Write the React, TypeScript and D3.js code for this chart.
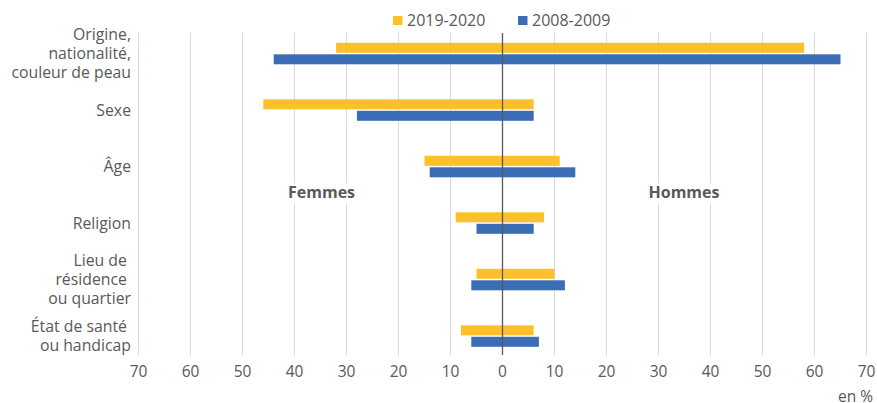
import React from "react";
import * as d3 from "d3";

const categories = [
  ["Origine,", "nationalité,", "couleur de peau"],
  ["Sexe"],
  ["Âge"],
  ["Religion"],
  ["Lieu de ", "résidence ", "ou quartier"],
  ["État de santé ", "ou handicap"],
];
const seriesNames = ["2019-2020", "2008-2009"];
const femmes2019 = [32, 46, 15, 9, 5, 8];
const hommes2019 = [58, 6, 11, 8, 10, 6];
const femmes2008 = [44, 28, 14, 5, 6, 6];
const hommes2008 = [65, 6, 14, 6, 12, 7];
const tickValues = [-70, -60, -50, -40, -30, -20, -10, 0, 10, 20, 30, 40, 50, 60, 70];

const W = 877;
const H = 403;
const COLORS = ["#FEC02A", "#3A6DB5"];
const TEXT = "#595959";
const FONT = "'Open Sans', sans-serif";

export default function App() {
  const x = d3.scaleLinear().domain([-70, 70]).range([138.5, 866.5]);
  const y = d3
    .scaleBand<number>()
    .domain(d3.range(categories.length))
    .range([25.3, 364.3]);
  const plotTop = 33;
  const plotBottom = 355;
  const barH = 10;
  const gap = 1.5;
  const series = [
    { name: seriesNames[0], left: femmes2019, right: hommes2019, color: COLORS[0] },
    { name: seriesNames[1], left: femmes2008, right: hommes2008, color: COLORS[1] },
  ];
  const lineH = 18.8;

  return (
    <svg width={W} height={H} style={{ position: "absolute", left: 0, top: 0, fontFamily: FONT }}>
      <rect width={W} height={H} fill="#fff" />
      {tickValues.map((t) =>
        t === 0 ? null : (
          <line key={t} x1={x(t)} x2={x(t)} y1={plotTop} y2={plotBottom} stroke="#D9D9D9" strokeWidth={1} />
        )
      )}
      {categories.map((_, i) => {
        const c = y(i)! + y.bandwidth() / 2;
        return series.map((s, j) => {
          const top = j === 0 ? c - gap / 2 - barH : c + gap / 2;
          return (
            <rect
              key={`${i}-${j}`}
              x={x(-s.left[i])}
              y={top}
              width={x(s.right[i]) - x(-s.left[i])}
              height={barH}
              fill={s.color}
            />
          );
        });
      })}
      <line x1={x(0)} x2={x(0)} y1={plotTop} y2={plotBottom} stroke="#595959" strokeWidth={1.3} />
      {categories.map((lines, i) => {
        const c = y(i)! + y.bandwidth() / 2;
        const start = c - ((lines.length - 1) * lineH) / 2;
        return (
          <text key={i} textAnchor="end" fontSize={15.8} fill={TEXT} style={{ whiteSpace: "pre" }}>
            {lines.map((l, k) => (
              <tspan key={k} x={131} y={start + k * lineH} dy="0.35em">
                {l}
              </tspan>
            ))}
          </text>
        );
      })}
      {tickValues.map((t) => (
        <text key={t} x={x(t)} y={372} dy="0.35em" textAnchor="middle" fontSize={15.5} fill={TEXT}>
          {Math.abs(t)}
        </text>
      ))}
      <text x={873} y={397} dy="0.35em" textAnchor="end" fontSize={15.5} fill={TEXT}>
        en %
      </text>
      {[
        { label: "Femmes", v: -34.8 },
        { label: "Hommes", v: 34.9 },
      ].map((d) => (
        <g key={d.label}>
          <rect x={x(d.v) - 37} y={183} width={74} height={21} fill="#fff" />
          <text x={x(d.v)} y={192.5} dy="0.35em" textAnchor="middle" fontSize={16} fontWeight="bold" fill={TEXT}>
            {d.label}
          </text>
        </g>
      ))}
      {series.map((s, j) => {
        const lx = j === 0 ? 393 : 518;
        return (
          <g key={s.name}>
            <rect x={lx} y={16} width={9.5} height={9} fill={s.color} />
            <text x={lx + 14} y={20.5} dy="0.35em" fontSize={16} fill={TEXT}>
              {s.name}
            </text>
          </g>
        );
      })}
    </svg>
  );
}
